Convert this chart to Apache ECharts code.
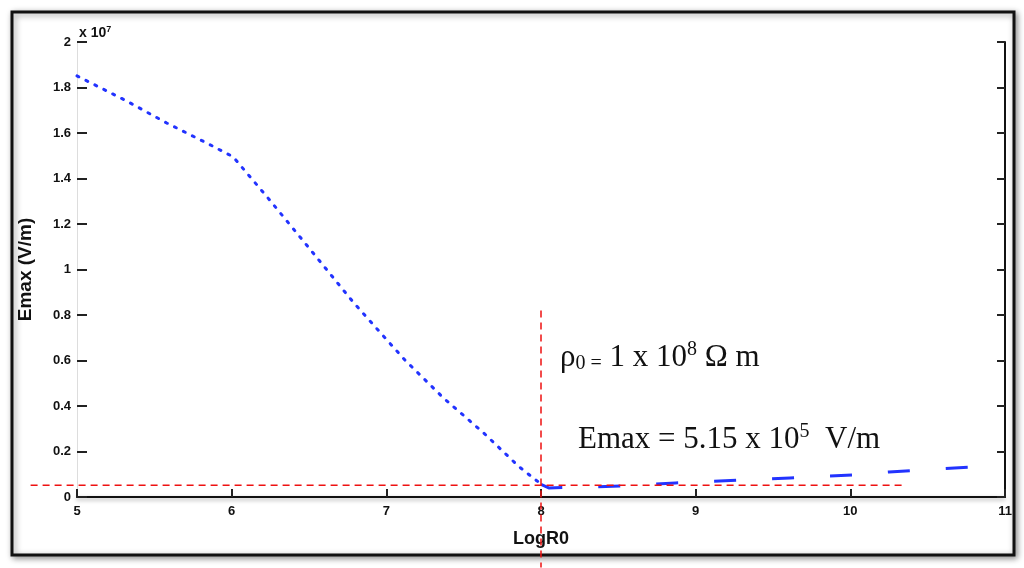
<!DOCTYPE html>
<html><head><meta charset="utf-8">
<script src="https://cdn.jsdelivr.net/npm/echarts@6/dist/echarts.min.js"></script>
<style>html,body{margin:0;padding:0;background:#fff}#c{width:1024px;height:568px}</style>
</head><body><div id="c"></div>
<script>
// Data (Emax in units of 1e7 V/m vs log10 R0)
const logR0Dotted = [5.0, 5.32, 5.58, 5.85, 6.01, 6.24, 6.49, 6.79, 7.12, 7.37, 7.63, 7.86, 7.99];
const emaxDotted  = [1.851, 1.741, 1.644, 1.552, 1.495, 1.310, 1.103, 0.853, 0.602, 0.435, 0.281, 0.132, 0.062];
const logR0Dashed = [8.0, 8.05, 8.52, 8.87, 9.32, 9.61, 10.02, 10.25, 10.57, 10.79];
const emaxDashed  = [0.055, 0.040, 0.048, 0.062, 0.075, 0.084, 0.097, 0.110, 0.123, 0.132];
const yTicks = [0, 0.2, 0.4, 0.6, 0.8, 1, 1.2, 1.4, 1.6, 1.8, 2];
const xTicks = [5, 6, 7, 8, 9, 10, 11];
const rho0Log = 8;          // ρ0 = 1e8 Ω m
const emaxMark = 0.0515;    // 5.15e5 V/m in 1e7 units
const hLineX = [4.70, 10.35];
const vLineY = [0.82, -0.31];

const chart = echarts.init(document.getElementById('c'));
const labelFont = {color:'#111', fontFamily:'Liberation Sans', fontWeight:'bold', fontSize:13};
const option = {
  animation:false,
  backgroundColor:'#fff',
  grid:{left:77, right:19, top:42, bottom:71, containLabel:false},
  xAxis:[{
    type:'value', min:5, max:11, interval:1,
    axisLine:{show:true, lineStyle:{color:'#555', width:2, shadowColor:'rgba(0,0,0,0.35)', shadowBlur:4, shadowOffsetY:2}},
    axisTick:{show:true, inside:true, length:8, lineStyle:{color:'#222', width:2}},
    axisLabel:Object.assign({margin:8, formatter:v=>xTicks.includes(v)?String(v):''}, labelFont),
    splitLine:{show:false},
    name:'LogR0', nameLocation:'middle', nameGap:33,
    nameTextStyle:{color:'#111', fontFamily:'Liberation Sans', fontWeight:'bold', fontSize:18}
  },{
    type:'value', min:5, max:11, position:'top',
    axisLine:{show:true, lineStyle:{color:'#111', width:2}},
    axisTick:{show:false}, axisLabel:{show:false}, splitLine:{show:false}
  }],
  yAxis:[{
    type:'value', min:0, max:2, interval:0.2,
    axisLine:{show:true, lineStyle:{color:'#ddd', width:1}},
    axisTick:{show:true, inside:true, length:10, lineStyle:{color:'#222', width:2}},
    axisLabel:Object.assign({margin:6, formatter:v=>{
      const t = yTicks.find(k=>Math.abs(k-v)<1e-6);
      if(t===undefined) return '';
      return (t===0||t===1||t===2)?String(t):t.toFixed(1);
    }}, labelFont),
    splitLine:{show:false},
    name:'Emax (V/m)', nameLocation:'middle', nameGap:42, nameRotate:90,
    nameTextStyle:{color:'#111', fontFamily:'Liberation Sans', fontWeight:'bold', fontSize:19}
  },{
    type:'value', min:0, max:2, interval:0.2, position:'right',
    axisLine:{show:true, lineStyle:{color:'#111', width:2}},
    axisTick:{show:true, inside:true, length:8, lineStyle:{color:'#222', width:2}},
    axisLabel:{show:false}, splitLine:{show:false}
  }],
  series:[{
    type:'line', showSymbol:false, clip:false,
    data:logR0Dotted.map((x,i)=>[x, emaxDotted[i]]),
    lineStyle:{color:'#2233ff', width:3, type:[2,8], cap:'round'}
  },{
    type:'line', showSymbol:false, clip:false,
    data:logR0Dashed.map((x,i)=>[x, emaxDashed[i]]),
    lineStyle:{color:'#2233ff', width:3, type:[22,36]}
  }]
};
chart.setOption(option);

const h0 = chart.convertToPixel({xAxisIndex:0, yAxisIndex:0}, [hLineX[0], emaxMark]);
const h1 = chart.convertToPixel({xAxisIndex:0, yAxisIndex:0}, [hLineX[1], emaxMark]);
const v0 = chart.convertToPixel({xAxisIndex:0, yAxisIndex:0}, [rho0Log, vLineY[0]]);
const v1 = chart.convertToPixel({xAxisIndex:0, yAxisIndex:0}, [rho0Log, vLineY[1]]);
const topLeft = chart.convertToPixel({xAxisIndex:0, yAxisIndex:0}, [5, 2]);

chart.setOption({graphic:[
  {type:'rect', shape:{x:12, y:12, width:1002, height:543}, z:-10,
   style:{fill:'#fff', stroke:'#111', lineWidth:3, shadowColor:'rgba(0,0,0,0.4)', shadowBlur:6, shadowOffsetX:2, shadowOffsetY:2}},
  {type:'line', shape:{x1:h0[0], y1:h0[1], x2:h1[0], y2:h1[1]}, z:50,
   style:{stroke:'#ee1111', lineWidth:1.5, lineDash:[7,5]}},
  {type:'line', shape:{x1:v0[0], y1:v0[1], x2:v1[0], y2:v1[1]}, z:50,
   style:{stroke:'#ee1111', lineWidth:1.5, lineDash:[7,5]}},
  {type:'text', x:topLeft[0]+2, y:topLeft[1]-17, z:60,
   style:{text:'{a|x 10}{s|7}', rich:{
     a:{fontFamily:'Liberation Sans', fontWeight:'bold', fontSize:14, fill:'#111'},
     s:{fontFamily:'Liberation Sans', fontWeight:'bold', fontSize:9, fill:'#111', verticalAlign:'top', padding:[0,0,7,0]}}}},
  {type:'text', x:560, y:340, z:60,
   style:{text:'{a|ρ}{sub|0 =}{a| 1 x 10}{sup|8}{a| Ω m}', rich:{
     a:{fontFamily:'Liberation Serif', fontSize:31, fill:'#111'},
     sub:{fontFamily:'Liberation Serif', fontSize:20, fill:'#111', padding:[12,0,0,0]},
     sup:{fontFamily:'Liberation Serif', fontSize:20, fill:'#111', padding:[0,0,16,0]}}}},
  {type:'text', x:578, y:422, z:60,
   style:{text:'{a|Emax = 5.15 x 10}{sup|5}{a|  V/m}', rich:{
     a:{fontFamily:'Liberation Serif', fontSize:31, fill:'#111'},
     sup:{fontFamily:'Liberation Serif', fontSize:20, fill:'#111', padding:[0,0,16,0]}}}}
]});
</script></body></html>
